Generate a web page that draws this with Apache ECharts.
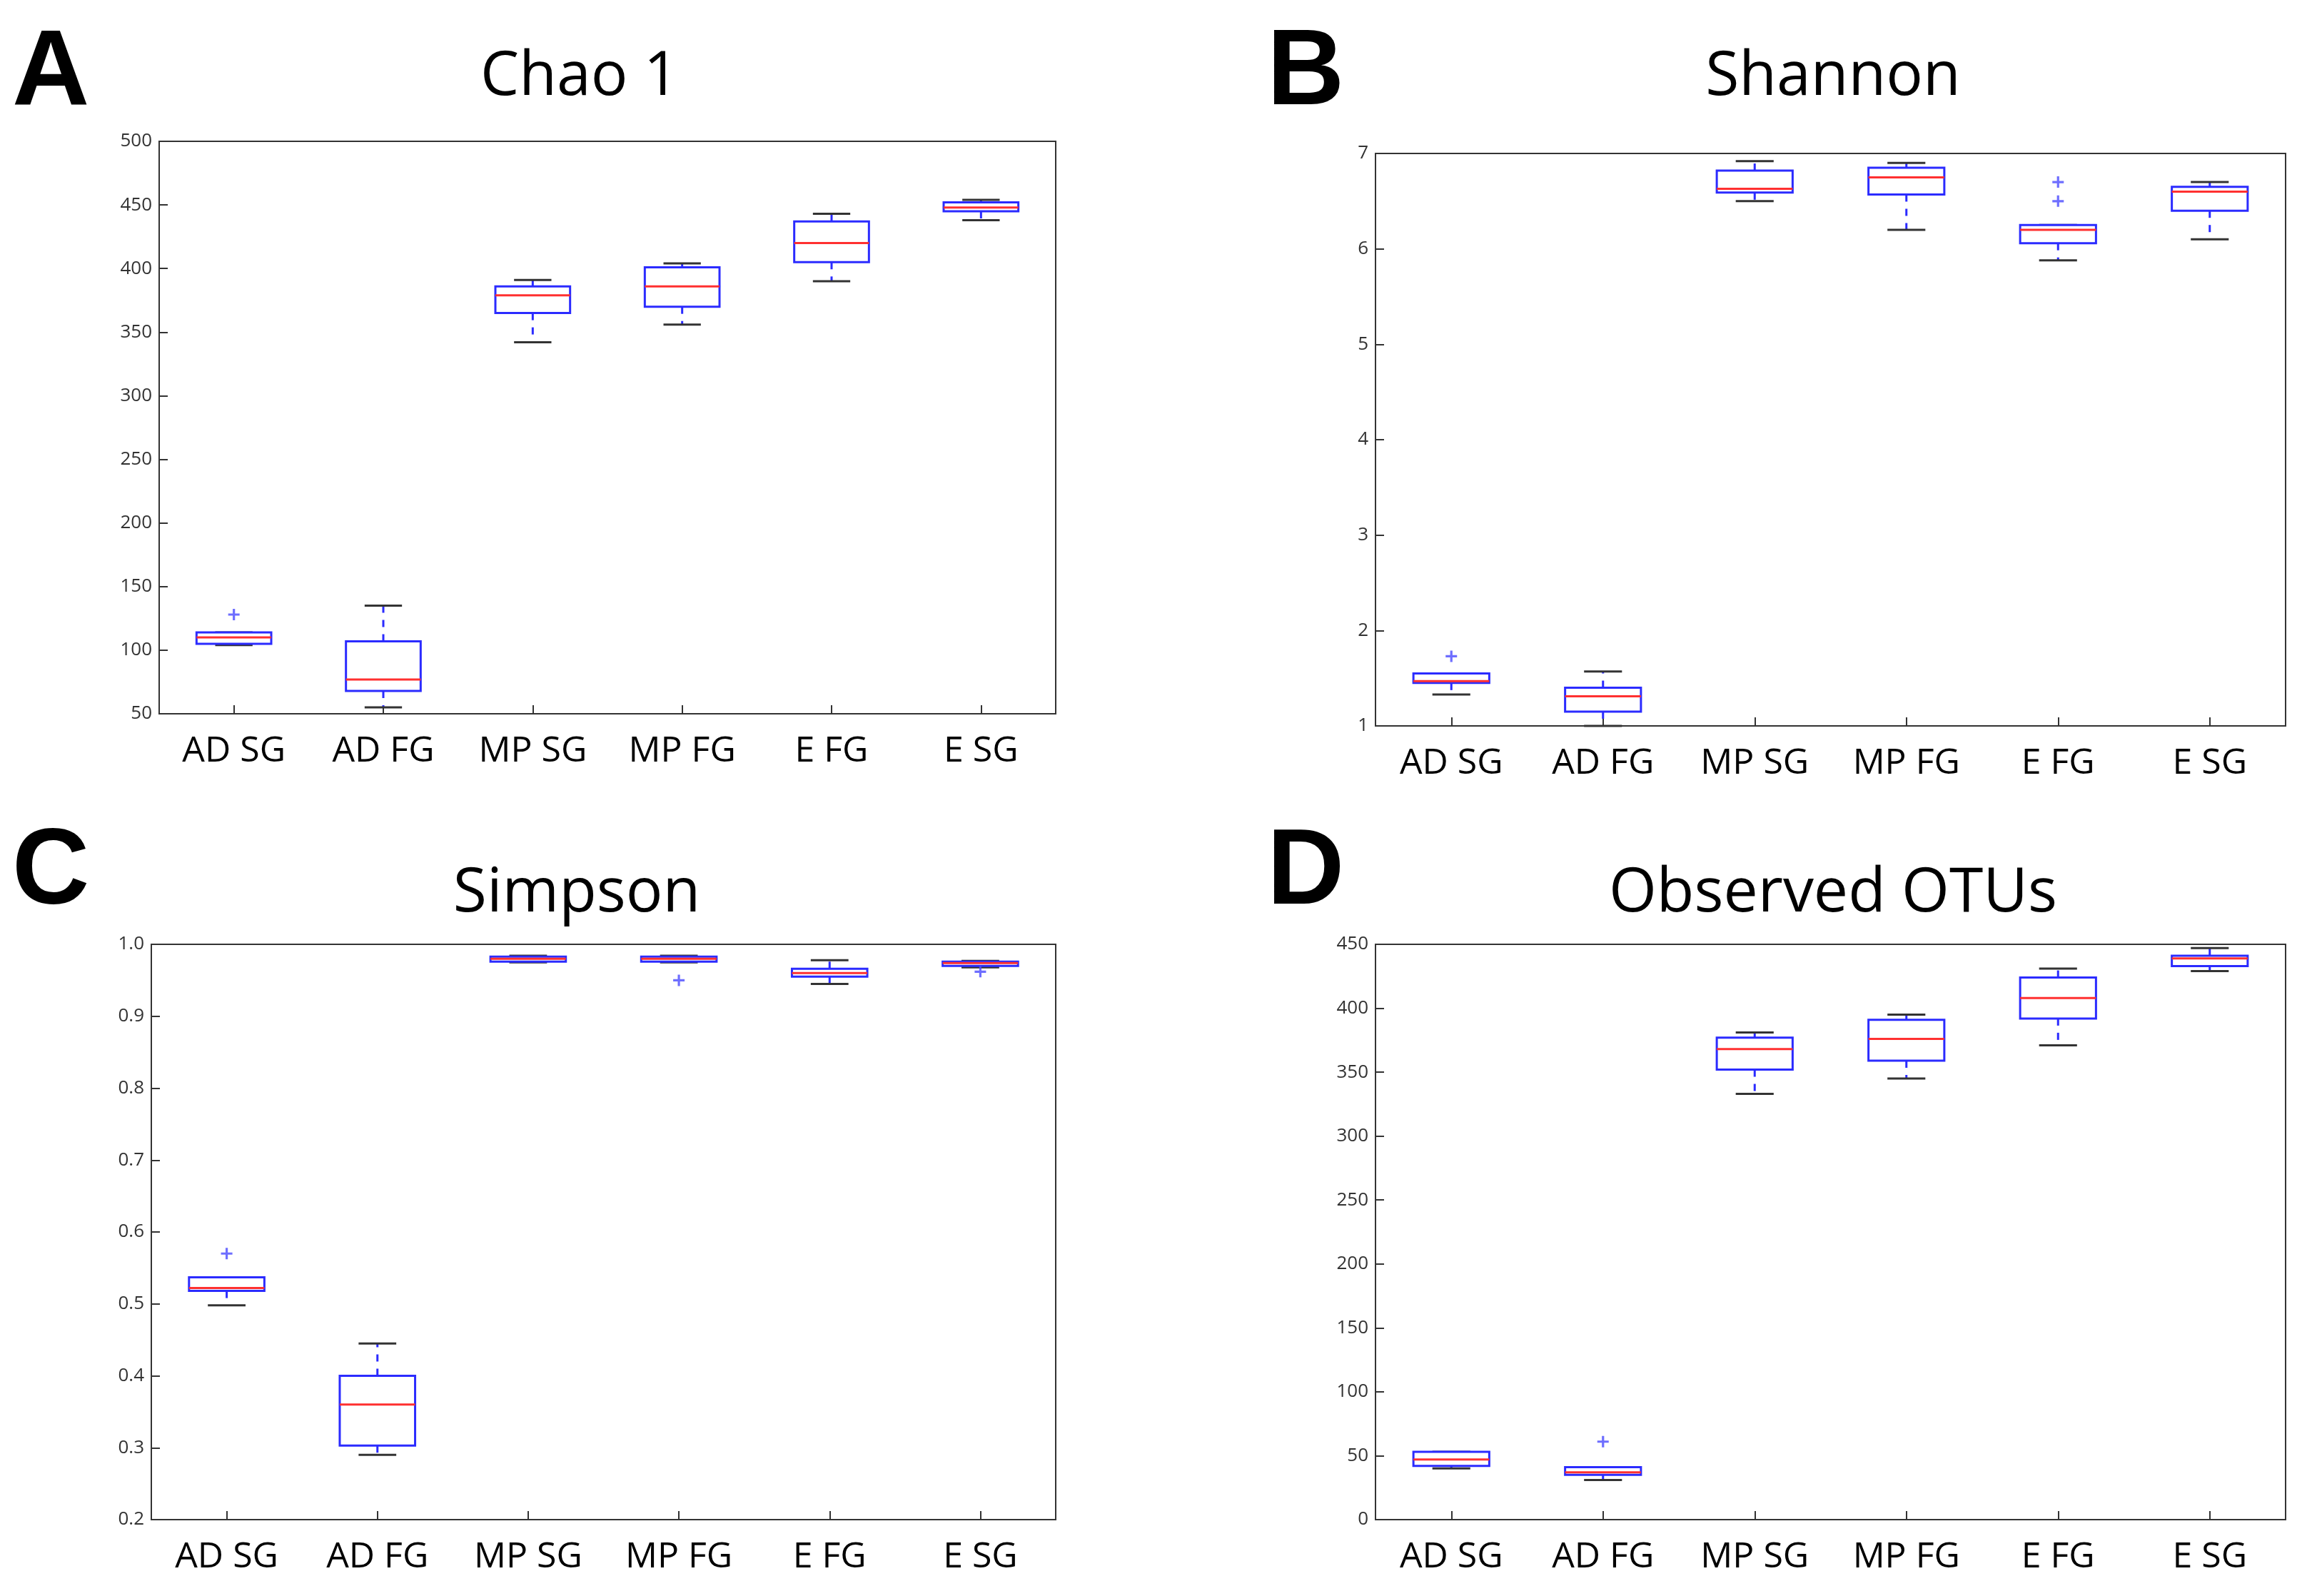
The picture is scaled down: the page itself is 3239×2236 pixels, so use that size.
<!DOCTYPE html>
<html><head><meta charset="utf-8">
<script src="https://cdn.jsdelivr.net/npm/echarts@6/dist/echarts.min.js"></script>
<style>html,body{margin:0;padding:0;background:#fff}#c{width:3239px;height:2236px}</style>
</head><body><div id="c"></div>
<script>
const categories = ['AD SG','AD FG','MP SG','MP FG','E FG','E SG'];
// [min, Q1, median, Q3, max]
const chaoBoxes = [[104,105,110,114,114],[55,68,77,107,135],[342,365,379,386,391],[356,370,386,401,404],[390,405,420,437,443],[438,445,448,452,454]];
const chaoOutliers = [[0,128]];
const shannonBoxes = [[1.33,1.45,1.47,1.55,1.55],[1.0,1.15,1.31,1.40,1.57],[6.5,6.59,6.63,6.82,6.92],[6.2,6.57,6.75,6.85,6.9],[5.88,6.06,6.2,6.25,6.25],[6.1,6.4,6.6,6.65,6.7]];
const shannonOutliers = [[0,1.73],[4,6.5],[4,6.7]];
const simpsonBoxes = [[0.498,0.518,0.522,0.537,0.537],[0.29,0.303,0.36,0.40,0.445],[0.975,0.976,0.98,0.983,0.984],[0.975,0.976,0.98,0.983,0.984],[0.945,0.955,0.96,0.966,0.978],[0.968,0.97,0.974,0.976,0.977]];
const simpsonOutliers = [[0,0.57],[3,0.95],[5,0.962]];
const otuBoxes = [[40,42,47,53,53],[31,35,37,41,41],[333,352,368,377,381],[345,359,376,391,395],[371,392,408,424,431],[429,433,439,441,447]];
const otuOutliers = [[1,61]];

const panels = [
  {letter:'A', title:'Chao 1', boxes:chaoBoxes, out:chaoOutliers, min:50, max:500, interval:50, fmt:v=>v, grid:{left:223,top:198,width:1256,height:802}, tx:812, ty:108},
  {letter:'B', title:'Shannon', boxes:shannonBoxes, out:shannonOutliers, min:1, max:7, interval:1, fmt:v=>v, grid:{left:1927,top:215,width:1275,height:802}, tx:2568, ty:108},
  {letter:'C', title:'Simpson', boxes:simpsonBoxes, out:simpsonOutliers, min:0.2, max:1.0, interval:0.1, fmt:v=>v.toFixed(1), grid:{left:212,top:1323,width:1267,height:806}, tx:808, ty:1252},
  {letter:'D', title:'Observed OTUs', boxes:otuBoxes, out:otuOutliers, min:0, max:450, interval:50, fmt:v=>v, grid:{left:1927,top:1323,width:1275,height:806}, tx:2568, ty:1252}
];

const option = {animation:false, backgroundColor:'#fff', grid:[], xAxis:[], yAxis:[], series:[], graphic:[]};
const letterPos = [[17,30],[1775,30],[17,1150],[1775,1150]];
panels.forEach((p,i)=>{
  option.grid.push(Object.assign({show:true,borderColor:'#333',borderWidth:2,backgroundColor:'#fff'},p.grid));
  option.graphic.push({type:'text',left:letterPos[i][0],top:letterPos[i][1],style:{text:p.letter,font:'bold 150px "Liberation Sans", Arial',fill:'#000'}});
  option.graphic.push({type:'text',x:p.tx,y:p.ty,style:{text:p.title,font:'86px "Open Sans", "Noto Sans", sans-serif',fill:'#000',textAlign:'center',textVerticalAlign:'middle'}});
  option.xAxis.push({type:'category',gridIndex:i,data:categories,boundaryGap:true,
    axisLine:{show:false},axisTick:{show:true,inside:true,alignWithLabel:true,length:12,lineStyle:{color:'#333',width:2}},
    axisLabel:{fontSize:50,color:'#000',margin:28,fontFamily:'"Open Sans", "Noto Sans", sans-serif'},splitLine:{show:false}});
  option.yAxis.push({type:'value',gridIndex:i,min:p.min,max:p.max,interval:p.interval,
    axisLine:{show:false},axisTick:{show:true,inside:true,length:12,lineStyle:{color:'#333',width:2}},
    axisLabel:{fontSize:26,color:'#333',margin:10,formatter:p.fmt,fontFamily:'"Open Sans", sans-serif'},splitLine:{show:false}});
  option.series.push({type:'custom',xAxisIndex:i,yAxisIndex:i,
    data:p.boxes.map((b,k)=>[k].concat(b)),
    renderItem:function(params,api){
      const x=api.value(0);
      const bw=api.size([1,0])[0]*0.5;
      const cw=bw*0.5;
      const pt=v=>api.coord([x,v]);
      const pMin=pt(api.value(1)),pQ1=pt(api.value(2)),pMed=pt(api.value(3)),pQ3=pt(api.value(4)),pMax=pt(api.value(5));
      const cx=pMin[0];
      const blue='#2b2bff';
      return {type:'group',children:[
        {type:'line',shape:{x1:cx,y1:pQ3[1],x2:cx,y2:pMax[1]},style:{stroke:blue,lineWidth:3,lineDash:[10,10]}},
        {type:'line',shape:{x1:cx,y1:pQ1[1],x2:cx,y2:pMin[1]},style:{stroke:blue,lineWidth:3,lineDash:[10,10]}},
        {type:'line',shape:{x1:cx-cw/2,y1:pMax[1],x2:cx+cw/2,y2:pMax[1]},style:{stroke:'#333',lineWidth:3}},
        {type:'line',shape:{x1:cx-cw/2,y1:pMin[1],x2:cx+cw/2,y2:pMin[1]},style:{stroke:'#333',lineWidth:3}},
        {type:'rect',shape:{x:cx-bw/2,y:pQ3[1],width:bw,height:pQ1[1]-pQ3[1]},style:{fill:'#fff',stroke:blue,lineWidth:3}},
        {type:'line',shape:{x1:cx-bw/2,y1:pMed[1],x2:cx+bw/2,y2:pMed[1]},style:{stroke:'#ff3030',lineWidth:3}}
      ]};
    }});
  option.series.push({type:'scatter',xAxisIndex:i,yAxisIndex:i,data:p.out,
    symbol:'path://M4,0H6V4H10V6H6V10H4V6H0V4H4Z',symbolSize:16,itemStyle:{color:'#4a4aff'}});
});
echarts.init(document.getElementById('c')).setOption(option);
</script></body></html>
